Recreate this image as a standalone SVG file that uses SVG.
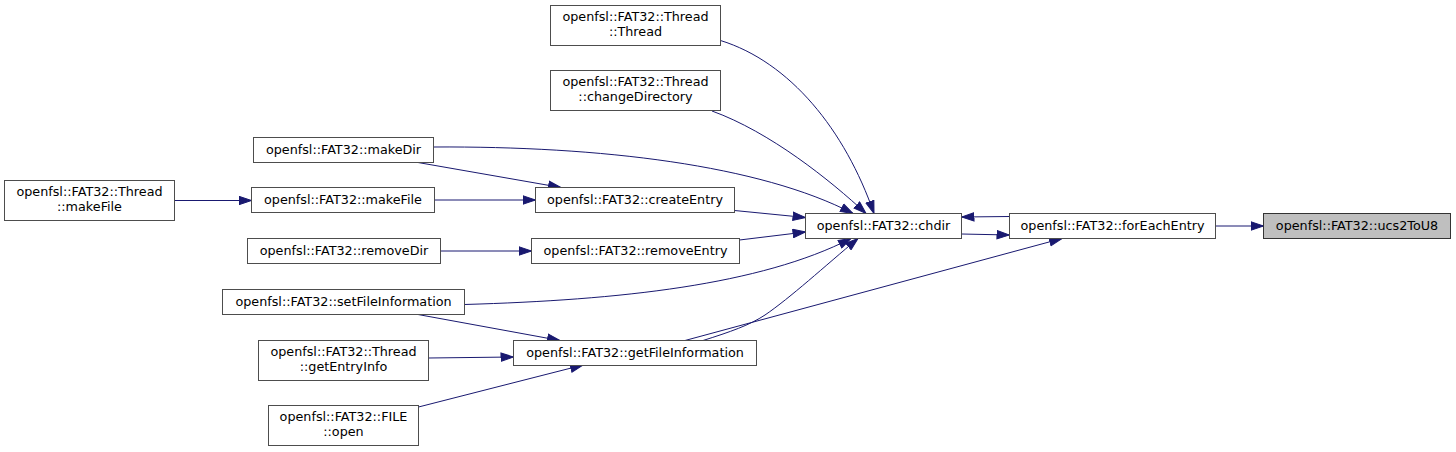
<svg xmlns="http://www.w3.org/2000/svg" width="1456" height="452" viewBox="0 0 1456 452">
<style>
.n rect{fill:#ffffff;stroke:#4d4d4d;stroke-width:1}
.n.root rect{fill:#bfbfbf;stroke:#333333}
.n text{font-family:"DejaVu Sans","Liberation Sans",sans-serif;font-size:12.75px;fill:#000000;text-anchor:middle}
.e path{fill:none;stroke:#191970;stroke-width:1;marker-end:url(#ah)}
</style>
<defs>
<marker id="ah" viewBox="0 0 13 10" refX="13" refY="5" markerWidth="13" markerHeight="10" markerUnits="userSpaceOnUse" orient="auto">
<path d="M0.5,0.8 L13,5 L0.5,9.2 Z" fill="#191970" stroke="#191970" stroke-width="1"/>
</marker>
</defs>
<rect width="1456" height="452" fill="#ffffff"/>
<g id="connectors" class="e">
<path d="M1215.5,226 L1263.5,226"/>
<path d="M1009.5,216.5 L961.5,217"/>
<path d="M961.5,234 L1009.5,235"/>
<path d="M720.5,40.5 C790,62 845,130 874,213.5"/>
<path d="M712,111 C770,132 830,180 866,213.5"/>
<path d="M433.5,147 C600,146 760,165 853,213.5"/>
<path d="M418,162.5 L561,187.5"/>
<path d="M174.5,200.5 L251.5,200.5"/>
<path d="M434.5,200 L535.5,200"/>
<path d="M734.5,210.5 L805.5,217.5"/>
<path d="M440.5,251 L531.5,251"/>
<path d="M739.5,240 L805.5,232"/>
<path d="M464.5,304.5 C620,300 760,285 851,238.5"/>
<path d="M418,314.5 L560,340.5"/>
<path d="M703,340.5 C730,332 750,325 765,315 C790,298 825,266 858,238.5"/>
<path d="M685,340.5 L1062,238.5"/>
<path d="M428.5,358 L513.5,357"/>
<path d="M418.5,407 L583,365"/>
</g>
<g id="node_ucs2ToU8" class="n root"><rect x="1263.5" y="213.5" width="187" height="25"/><text x="1357" y="229.5">openfsl::FAT32::ucs2ToU8</text></g>
<g id="node_forEachEntry" class="n"><rect x="1009.5" y="213.5" width="206" height="25"/><text x="1112.5" y="229.5">openfsl::FAT32::forEachEntry</text></g>
<g id="node_chdir" class="n"><rect x="805.5" y="213.5" width="156" height="25"/><text x="883.5" y="229.5">openfsl::FAT32::chdir</text></g>
<g id="node_Thread_Thread" class="n"><rect x="550.5" y="5.5" width="170" height="40"/><text x="635.5" y="21.2">openfsl::FAT32::Thread</text><text x="635.5" y="36.2">::Thread</text></g>
<g id="node_Thread_changeDirectory" class="n"><rect x="550.5" y="70.5" width="170" height="40"/><text x="635.5" y="86.2">openfsl::FAT32::Thread</text><text x="635.5" y="101.2">::changeDirectory</text></g>
<g id="node_makeDir" class="n"><rect x="253.5" y="137.5" width="180" height="25"/><text x="343.5" y="153.5">openfsl::FAT32::makeDir</text></g>
<g id="node_Thread_makeFile" class="n"><rect x="4.5" y="180.5" width="170" height="40"/><text x="89.5" y="196.2">openfsl::FAT32::Thread</text><text x="89.5" y="211.2">::makeFile</text></g>
<g id="node_makeFile" class="n"><rect x="251.5" y="187.5" width="183" height="25"/><text x="343" y="203.5">openfsl::FAT32::makeFile</text></g>
<g id="node_createEntry" class="n"><rect x="535.5" y="187.5" width="199" height="25"/><text x="635" y="203.5">openfsl::FAT32::createEntry</text></g>
<g id="node_removeDir" class="n"><rect x="247.5" y="238.5" width="193" height="25"/><text x="344" y="254.5">openfsl::FAT32::removeDir</text></g>
<g id="node_removeEntry" class="n"><rect x="531.5" y="238.5" width="208" height="25"/><text x="635.5" y="254.5">openfsl::FAT32::removeEntry</text></g>
<g id="node_setFileInformation" class="n"><rect x="222.5" y="289.5" width="242" height="25"/><text x="343.5" y="305.5">openfsl::FAT32::setFileInformation</text></g>
<g id="node_Thread_getEntryInfo" class="n"><rect x="258.5" y="340.5" width="170" height="40"/><text x="343.5" y="356.2">openfsl::FAT32::Thread</text><text x="343.5" y="371.2">::getEntryInfo</text></g>
<g id="node_getFileInformation" class="n"><rect x="513.5" y="340.5" width="243" height="25"/><text x="635" y="356.5">openfsl::FAT32::getFileInformation</text></g>
<g id="node_FILE_open" class="n"><rect x="268.5" y="405.5" width="150" height="40"/><text x="343.5" y="421.2">openfsl::FAT32::FILE</text><text x="343.5" y="436.2">::open</text></g>
</svg>
